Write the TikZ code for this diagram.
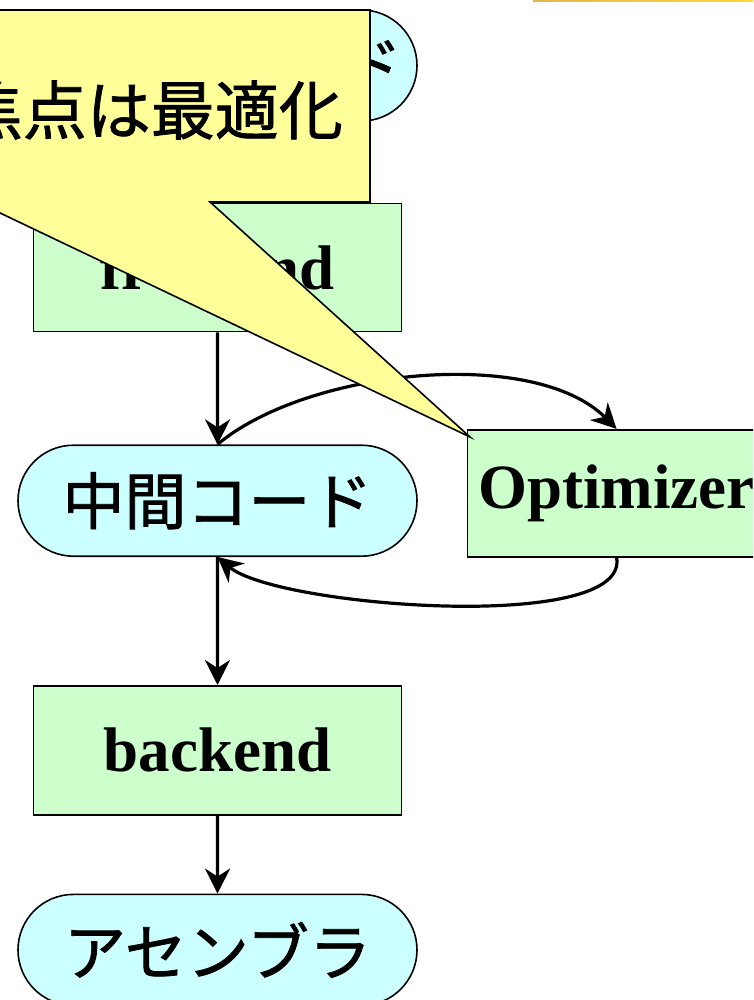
\documentclass[tikz,border=0pt]{standalone}
\usepackage{fontspec}
\setmainfont{Liberation Serif}
\newfontfamily\jpfont[FakeBold=1.2]{Noto Sans CJK JP}
\usetikzlibrary{arrows.meta, positioning, shapes.misc}

\definecolor{codecyan}{HTML}{CCFFFF}
\definecolor{passgreen}{HTML}{CCFFCC}
\definecolor{noteyellow}{HTML}{FFFF99}
\definecolor{goldA}{HTML}{E2B84A}
\definecolor{goldB}{HTML}{FFD83A}

\begin{document}
\begin{tikzpicture}[
    x=1pt, y=1pt,
    >={Stealth[length=25pt, width=25pt, inset=8pt]},
    code/.style={rounded rectangle, draw, line width=1.6pt, fill=codecyan,
                 minimum width=399pt, minimum height=111pt, inner sep=0pt,
                 font=\jpfont\fontsize{62}{68}\selectfont},
    pass/.style={rectangle, draw, line width=1.6pt, fill=passgreen,
                 minimum width=368pt, minimum height=128pt, inner sep=0pt,
                 font=\bfseries\fontsize{63}{70}\selectfont},
    flow/.style={->, line width=3.2pt}
]

\useasboundingbox (0,0) rectangle (753,-1000);
\clip (0,0) rectangle (753,-1000);

% ----------------------
% Nodes
% ----------------------

% compiler stages, top to bottom
\node[code] (src) at (217.5,-65.5) {ソースコード};
\node[pass, below=81pt of src] (front) {frontend};
\node[code, below=112pt of front] (mid) {中間コード};
\node[pass, minimum height=129pt, below=128pt of mid] (back) {backend};
\node[code, below=78pt of back] (asm) {アセンブラ};

% optimizer beside the intermediate code
\node[pass, minimum width=298pt, minimum height=127pt,
      right=49pt of mid.east, yshift=7.5pt] (opt) {Optimizer};

% ----------------------
% Arrows
% ----------------------

\draw[flow] (front) -- (mid);
\draw[flow] (mid) -- (back);
\draw[flow] (back) -- (asm);

% loop through the optimizer
\draw[flow] (mid.north) to[out=40, in=135, looseness=0.75] (opt.north);
\draw[flow] (opt.south) to[out=-80, in=-40, looseness=0.5] (mid.south);

% ----------------------
% Callout
% ----------------------

\coordinate (tip) at (470,-437);
\filldraw[fill=noteyellow, line width=1.6pt]
    (-200,-10) -- (370,-10) -- (370,-202) -- (210,-202) -- (tip)
    -- (-23,-202) -- (-200,-202) -- cycle;
\node[anchor=east, inner sep=0pt, font=\jpfont\fontsize{64}{70}\selectfont]
    (note) at (343,-110) {焦点は最適化};

% gold rule at the top edge
\shade[left color=goldA, right color=goldB] (533,0) rectangle (753,-2);

\end{tikzpicture}
\end{document}
